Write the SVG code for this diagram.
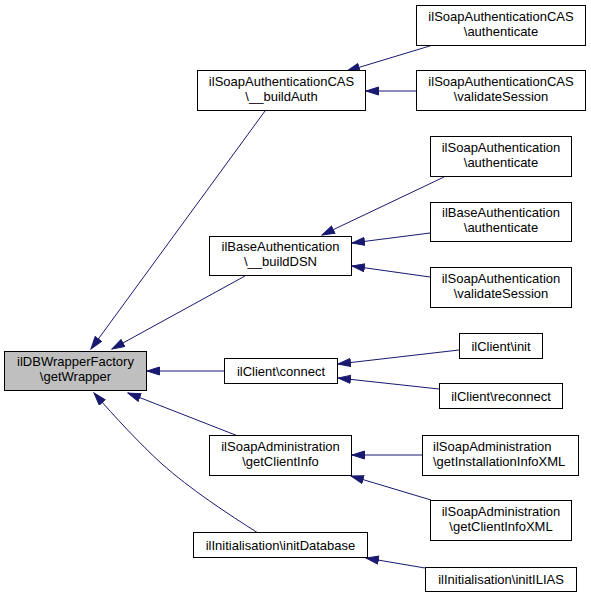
<svg xmlns="http://www.w3.org/2000/svg" width="591" height="598" viewBox="0 0 591 598">
<style>
.n rect{fill:#fff;stroke:#000;stroke-width:1}
.n.root rect{fill:#bfbfbf}
.n text{font-family:"Liberation Sans",Arial,sans-serif;font-size:13px;fill:#000;text-anchor:middle}
.n text.l{text-anchor:start}
.e path{fill:none;stroke:#191970;stroke-width:1;marker-end:url(#ah)}
</style>
<defs>
<marker id="ah" markerWidth="14" markerHeight="10" refX="13" refY="4.5" orient="auto" markerUnits="userSpaceOnUse">
<path d="M0.5,0.5 L13,4.5 L0.5,8.5 z" fill="#191970" stroke="#191970" stroke-width="1"/>
</marker>
</defs>
<rect width="591" height="598" fill="#fff"/>
<g id="edges" class="e">
<path d="M265,111 L91,349"/>
<path d="M245,276 L112,349"/>
<path d="M224,371 L147,371"/>
<path d="M238,436 L128,393"/>
<path d="M258,533 C228,514 190,489 162,464 C140,444 115,417 94,393"/>
<path d="M433,45 L347,71"/>
<path d="M416,91 L366,91"/>
<path d="M444,177 L322,235"/>
<path d="M430,233 L352,243"/>
<path d="M430,277 L352,266"/>
<path d="M459,350 L338,364"/>
<path d="M439,389 L338,378"/>
<path d="M422,455 L352,455"/>
<path d="M431,500 L351,476"/>
<path d="M425,568 L366,558"/>
</g>
<g id="n_root" class="n root"><rect x="4.5" y="351.5" width="142" height="39"/><text x="75.5" y="366">ilDBWrapperFactory</text><text x="75.5" y="381">\getWrapper</text></g>
<g id="n_buildAuth" class="n"><rect x="197.5" y="70.5" width="168" height="40"/><text x="281.5" y="86">ilSoapAuthenticationCAS</text><text x="281.5" y="101">\__buildAuth</text></g>
<g id="n_casAuth" class="n"><rect x="416.5" y="5.5" width="169" height="40"/><text x="501" y="21">ilSoapAuthenticationCAS</text><text x="501" y="36">\authenticate</text></g>
<g id="n_casValidate" class="n"><rect x="416.5" y="70.5" width="169" height="40"/><text x="501" y="86">ilSoapAuthenticationCAS</text><text x="501" y="101">\validateSession</text></g>
<g id="n_buildDSN" class="n"><rect x="209.5" y="236.5" width="142" height="39"/><text x="280.5" y="251">ilBaseAuthentication</text><text x="280.5" y="266">\__buildDSN</text></g>
<g id="n_soapAuth" class="n"><rect x="430.5" y="136.5" width="141" height="40"/><text x="501" y="152">ilSoapAuthentication</text><text x="501" y="167">\authenticate</text></g>
<g id="n_baseAuth" class="n"><rect x="430.5" y="202.5" width="141" height="39"/><text x="501" y="217">ilBaseAuthentication</text><text x="501" y="232">\authenticate</text></g>
<g id="n_soapValidate" class="n"><rect x="430.5" y="267.5" width="141" height="40"/><text x="501" y="283">ilSoapAuthentication</text><text x="501" y="298">\validateSession</text></g>
<g id="n_connect" class="n"><rect x="224.5" y="358.5" width="113" height="25"/><text x="281" y="375.5">ilClient\connect</text></g>
<g id="n_init" class="n"><rect x="459.5" y="333.5" width="83" height="25"/><text x="501" y="350.5">ilClient\init</text></g>
<g id="n_reconnect" class="n"><rect x="439.5" y="383.5" width="123" height="25"/><text x="501" y="400.5">ilClient\reconnect</text></g>
<g id="n_getClientInfo" class="n"><rect x="209.5" y="435.5" width="142" height="40"/><text x="280.5" y="451">ilSoapAdministration</text><text x="280.5" y="466">\getClientInfo</text></g>
<g id="n_getInstallationInfoXML" class="n"><rect x="422.5" y="435.5" width="156" height="40"/><text class="l" x="433" y="451">ilSoapAdministration</text><text class="l" x="433" y="466">\getInstallationInfoXML</text></g>
<g id="n_getClientInfoXML" class="n"><rect x="430.5" y="500.5" width="141" height="40"/><text x="501" y="516">ilSoapAdministration</text><text x="501" y="531">\getClientInfoXML</text></g>
<g id="n_initDatabase" class="n"><rect x="193.5" y="532.5" width="174" height="25"/><text x="280.5" y="549.5">ilInitialisation\initDatabase</text></g>
<g id="n_initILIAS" class="n"><rect x="425.5" y="567.5" width="151" height="24"/><text x="501" y="584">ilInitialisation\initILIAS</text></g>
</svg>
